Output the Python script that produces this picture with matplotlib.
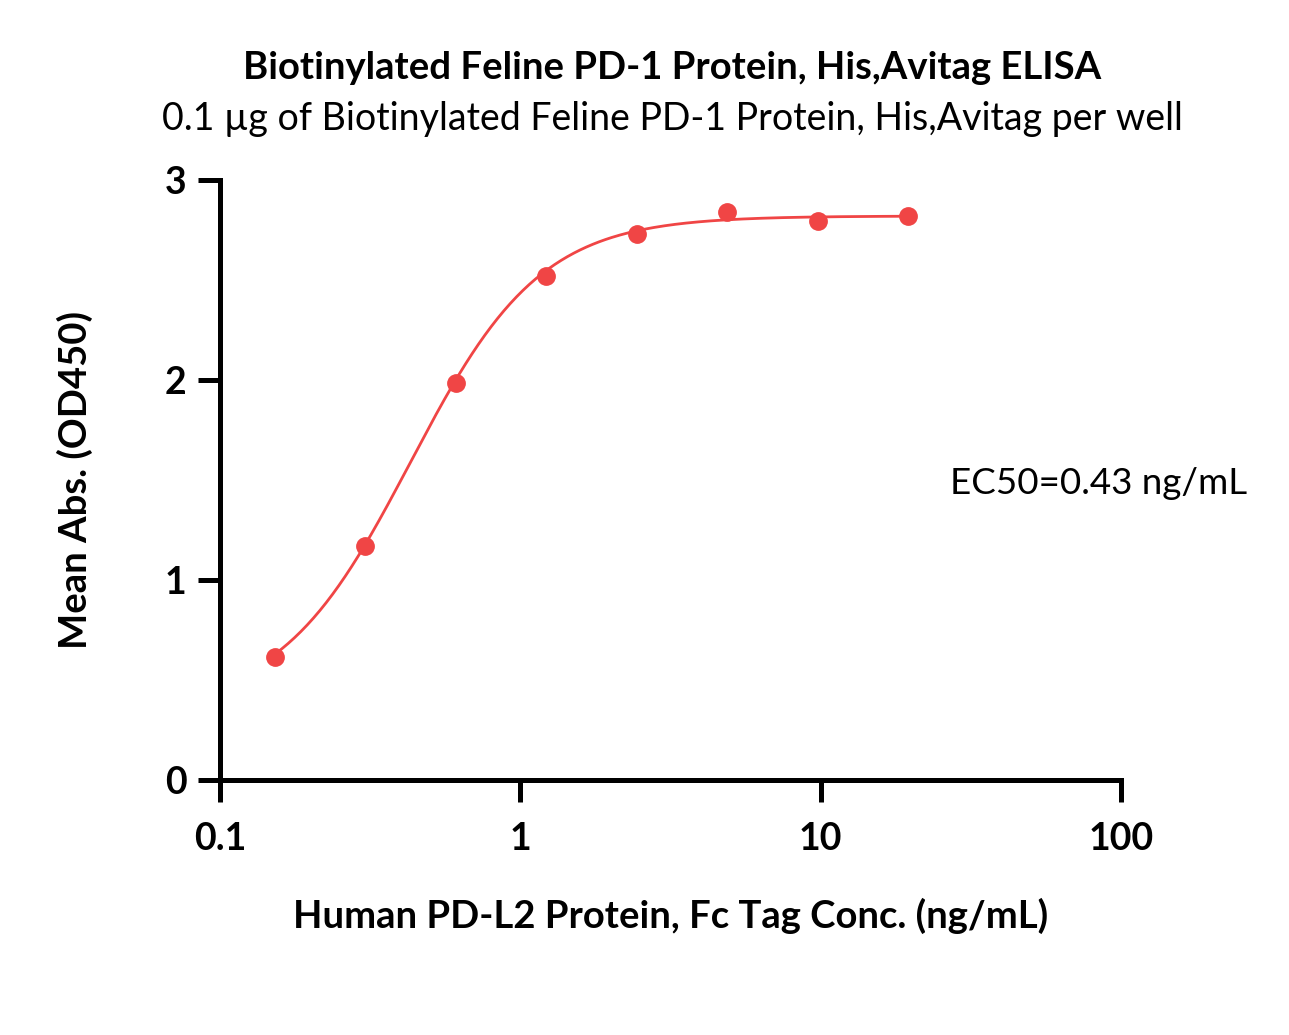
import numpy as np
import matplotlib.pyplot as plt

# ELISA data: concentration (ng/mL) vs mean absorbance
conc = [0.153, 0.305, 0.61, 1.22, 2.44, 4.88, 9.77, 19.5]
od450 = [0.615, 1.17, 1.985, 2.52, 2.73, 2.84, 2.795, 2.82]

# 4PL fit parameters
bottom, top, ec50, hill = 0.354, 2.82, 0.43, 2.0

plt.rcParams['font.family'] = ['Lato', 'DejaVu Sans']

fig = plt.figure(figsize=(12.89, 10.35), dpi=100)
ax = fig.add_axes([220 / 1289, 1 - 780 / 1035, 901 / 1289, 600 / 1035])

xfit = np.logspace(np.log10(conc[0]), np.log10(conc[-1]), 300)
yfit = bottom + (top - bottom) / (1 + (ec50 / xfit) ** hill)
ax.plot(xfit, yfit, color='#F04545', lw=2, zorder=2)
ax.plot(conc, od450, 'o', color='#F04545', ms=12.5, zorder=3, clip_on=False)

ax.set_xscale('log')
ax.set_xlim(0.1, 100)
ax.set_ylim(0, 3)
ax.set_xticks([0.1, 1, 10, 100])
ax.set_xticklabels(['0.1', '1', '10', '100'])
ax.set_yticks([0, 1, 2, 3])
ax.minorticks_off()

for s in ['top', 'right']:
    ax.spines[s].set_visible(False)
for s in ['left', 'bottom']:
    ax.spines[s].set_linewidth(3.6)
ax.tick_params(axis='both', which='major', width=3.6, length=16, labelsize=27)
ax.tick_params(axis='x', pad=14)
ax.tick_params(axis='y', pad=8)
for lab in ax.get_xticklabels() + ax.get_yticklabels():
    lab.set_fontweight('bold')

ax.set_xlabel("Human PD-L2 Protein, Fc Tag Conc. (ng/mL)", fontsize=27.5, fontweight='bold', labelpad=30)
ax.set_ylabel("Mean Abs. (OD450)", fontsize=27.5, fontweight='bold', labelpad=52)

fig.text(672 / 1289, 1 - 68 / 1035, "Biotinylated Feline PD-1 Protein, His,Avitag ELISA",
         ha='center', va='center', fontsize=27.5, fontweight='bold')
fig.text(672 / 1289, 1 - 119 / 1035, "0.1 \u00b5g of Biotinylated Feline PD-1 Protein, His,Avitag per well",
         ha='center', va='center', fontsize=27)
ax.text(84, 1.485, "EC50=0.43 ng/mL", ha='center', va='center', fontsize=26.5)

fig.savefig('out.png', dpi=100)
